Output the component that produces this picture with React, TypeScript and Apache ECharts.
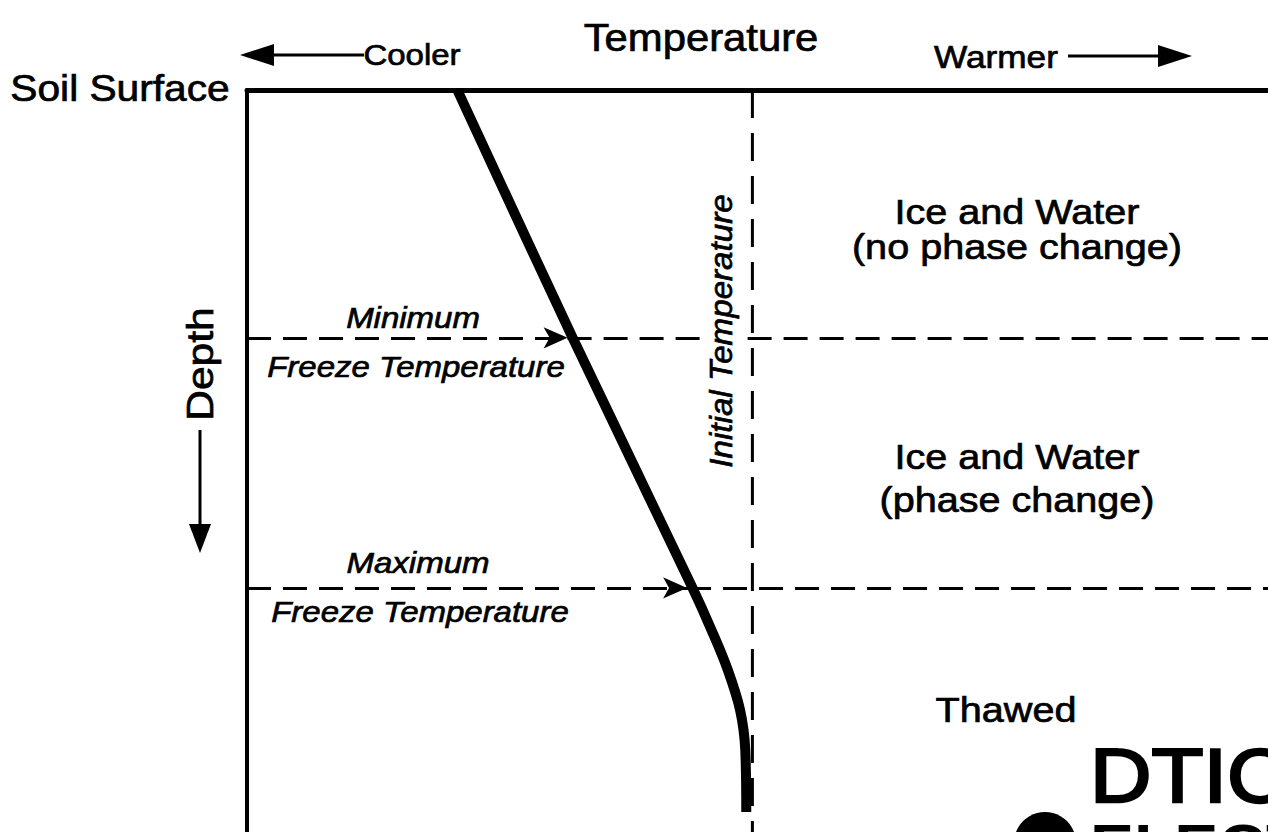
import React, { useEffect, useRef } from "react";
import * as echarts from "echarts";

// Schematic temperature profile (arbitrary units: temperature 0-100 left->right, depth 0-100 top->bottom)
const profileTemp = [20.6, 31.9, 43.6, 45.5, 47.1, 48.3, 48.8, 48.9];
const profileDepth = [0, 33.4, 67.0, 72.8, 78.2, 83.6, 88.9, 97.3];
const initialTemperature = 49.5;
const freezeDepths = [33.4, 67.1];
const freezeArrowTips = [31.4, 43.1];
const freezeLabels = ["Minimum", "Maximum"];
const zoneLabels = [
  "Ice and Water\n(no phase change)",
  "Ice and Water\n(phase change)",
  "Thawed",
];

const FONT = "'Liberation Sans', Arial, Helvetica, sans-serif";

function txt(text: string, x: number, y: number, size: number, opts: any = {}) {
  const { italic, rotation, scaleX = 1.1, align = "center", vAlign = "middle", lineHeight } = opts;
  return {
    type: "text",
    x,
    y,
    rotation: rotation || 0,
    scaleX,
    z: 10,
    style: {
      text,
      font: `${italic ? "italic " : ""}${size}px ${FONT}`,
      fill: "#000",
      stroke: "#000",
      lineWidth: 0.7,
      textAlign: align,
      textVerticalAlign: vAlign,
      lineHeight,
    },
  };
}

export default function App() {
  const ref = useRef<HTMLDivElement>(null);
  useEffect(() => {
    document.body.style.margin = "0";
    const chart = echarts.init(ref.current!, null, { renderer: "svg" });

    const freezeSeries = freezeDepths.map((d, i) => ({
      type: "line",
      name: freezeLabels[i],
      data: [],
      silent: true,
      markLine: {
        silent: true,
        animation: false,
        label: { show: false },
        symbol: ["none", "arrow"],
        symbolSize: [16, 24],
        lineStyle: { type: [24, 12], width: 3, color: "#000" },
        emphasis: { disabled: true },
        data: [
          [{ coord: [0, d] }, { coord: [freezeArrowTips[i], d] }],
          [
            { coord: [freezeArrowTips[i], d], symbol: "none" },
            { coord: [100, d], symbol: "none" },
          ],
        ],
      },
    }));

    const arrowStyle = { fill: "#000" };
    const lineStyle = { stroke: "#000", lineWidth: 3 };

    const option: any = {
      animation: false,
      grid: { left: 247, top: 90, width: 1021, height: 742, containLabel: false },
      xAxis: {
        type: "value",
        min: 0,
        max: 100,
        position: "top",
        axisLine: { show: true, onZero: false, lineStyle: { color: "#000", width: 5 } },
        axisTick: { show: false },
        axisLabel: { show: false },
        splitLine: { show: false },
      },
      yAxis: {
        type: "value",
        min: 0,
        max: 100,
        inverse: true,
        axisLine: { show: true, onZero: false, lineStyle: { color: "#000", width: 4 } },
        axisTick: { show: false },
        axisLabel: { show: false },
        splitLine: { show: false },
      },
      series: [
        {
          type: "line",
          name: "Initial Temperature",
          data: [
            [initialTemperature, 0],
            [initialTemperature, 100],
          ],
          showSymbol: false,
          silent: true,
          lineStyle: { color: "#000", width: 3, type: [28, 15] },
        },
        ...freezeSeries,
        {
          type: "line",
          name: "Temperature profile",
          data: profileTemp.map((t, i) => [t, profileDepth[i]]),
          smooth: 0.35,
          showSymbol: false,
          silent: true,
          lineStyle: { color: "#000", width: 10, cap: "butt", join: "round" },
        },
      ],
      graphic: [
        txt("Temperature", 701, 38, 38),
        txt("Cooler", 412, 55, 30),
        { type: "line", shape: { x1: 268, y1: 55, x2: 364, y2: 55 }, style: lineStyle },
        { type: "polygon", shape: { points: [[240, 55], [274, 44], [274, 66]] }, style: arrowStyle },
        txt("Warmer", 996, 57, 32),
        { type: "line", shape: { x1: 1068, y1: 56, x2: 1162, y2: 56 }, style: lineStyle },
        { type: "polygon", shape: { points: [[1192, 56], [1158, 45], [1158, 67]] }, style: arrowStyle },
        txt("Soil Surface", 120, 88, 37),
        txt("Depth", 200, 364, 37, { rotation: Math.PI / 2, scaleX: 1.15 }),
        { type: "line", shape: { x1: 200, y1: 430, x2: 200, y2: 528 }, style: lineStyle },
        { type: "polygon", shape: { points: [[200, 553], [189, 524], [211, 524]] }, style: arrowStyle },
        txt(freezeLabels[0], 413, 318, 30, { italic: true }),
        txt("Freeze Temperature", 416, 367, 30, { italic: true }),
        txt(freezeLabels[1], 418, 563, 30, { italic: true }),
        txt("Freeze Temperature", 420, 612, 30, { italic: true }),
        { type: "rect", z: 9, shape: { x: 707, y: 330, width: 32, height: 16 }, style: { fill: "#fff" } },
        txt("Initial Temperature", 721, 331, 31, { italic: true, rotation: Math.PI / 2, scaleX: 1.07 }),
        txt(zoneLabels[0], 1017, 229, 36, { lineHeight: 35 }),
        txt(zoneLabels[1], 1017, 478, 36, { lineHeight: 43 }),
        txt(zoneLabels[2], 1006, 710, 36),
        {
          type: "text",
          x: 1090,
          y: 776,
          scaleX: 1.12,
          style: { text: "DTIC", font: `76px ${FONT}`, fill: "#000", stroke: "#000", lineWidth: 2.5, textAlign: "left", textVerticalAlign: "middle" },
        },
        {
          type: "text",
          x: 1090,
          y: 815,
          scaleX: 1.1,
          style: { text: "ELECTE", font: `bold 60px ${FONT}`, fill: "#000", textAlign: "left", textVerticalAlign: "top" },
        },
        { type: "circle", shape: { cx: 1045, cy: 843, r: 31 }, style: { fill: "#000" } },
      ],
    };
    chart.setOption(option);
    return () => chart.dispose();
  }, []);
  return <div ref={ref} style={{ width: 1268, height: 832, background: "#fff" }} />;
}
